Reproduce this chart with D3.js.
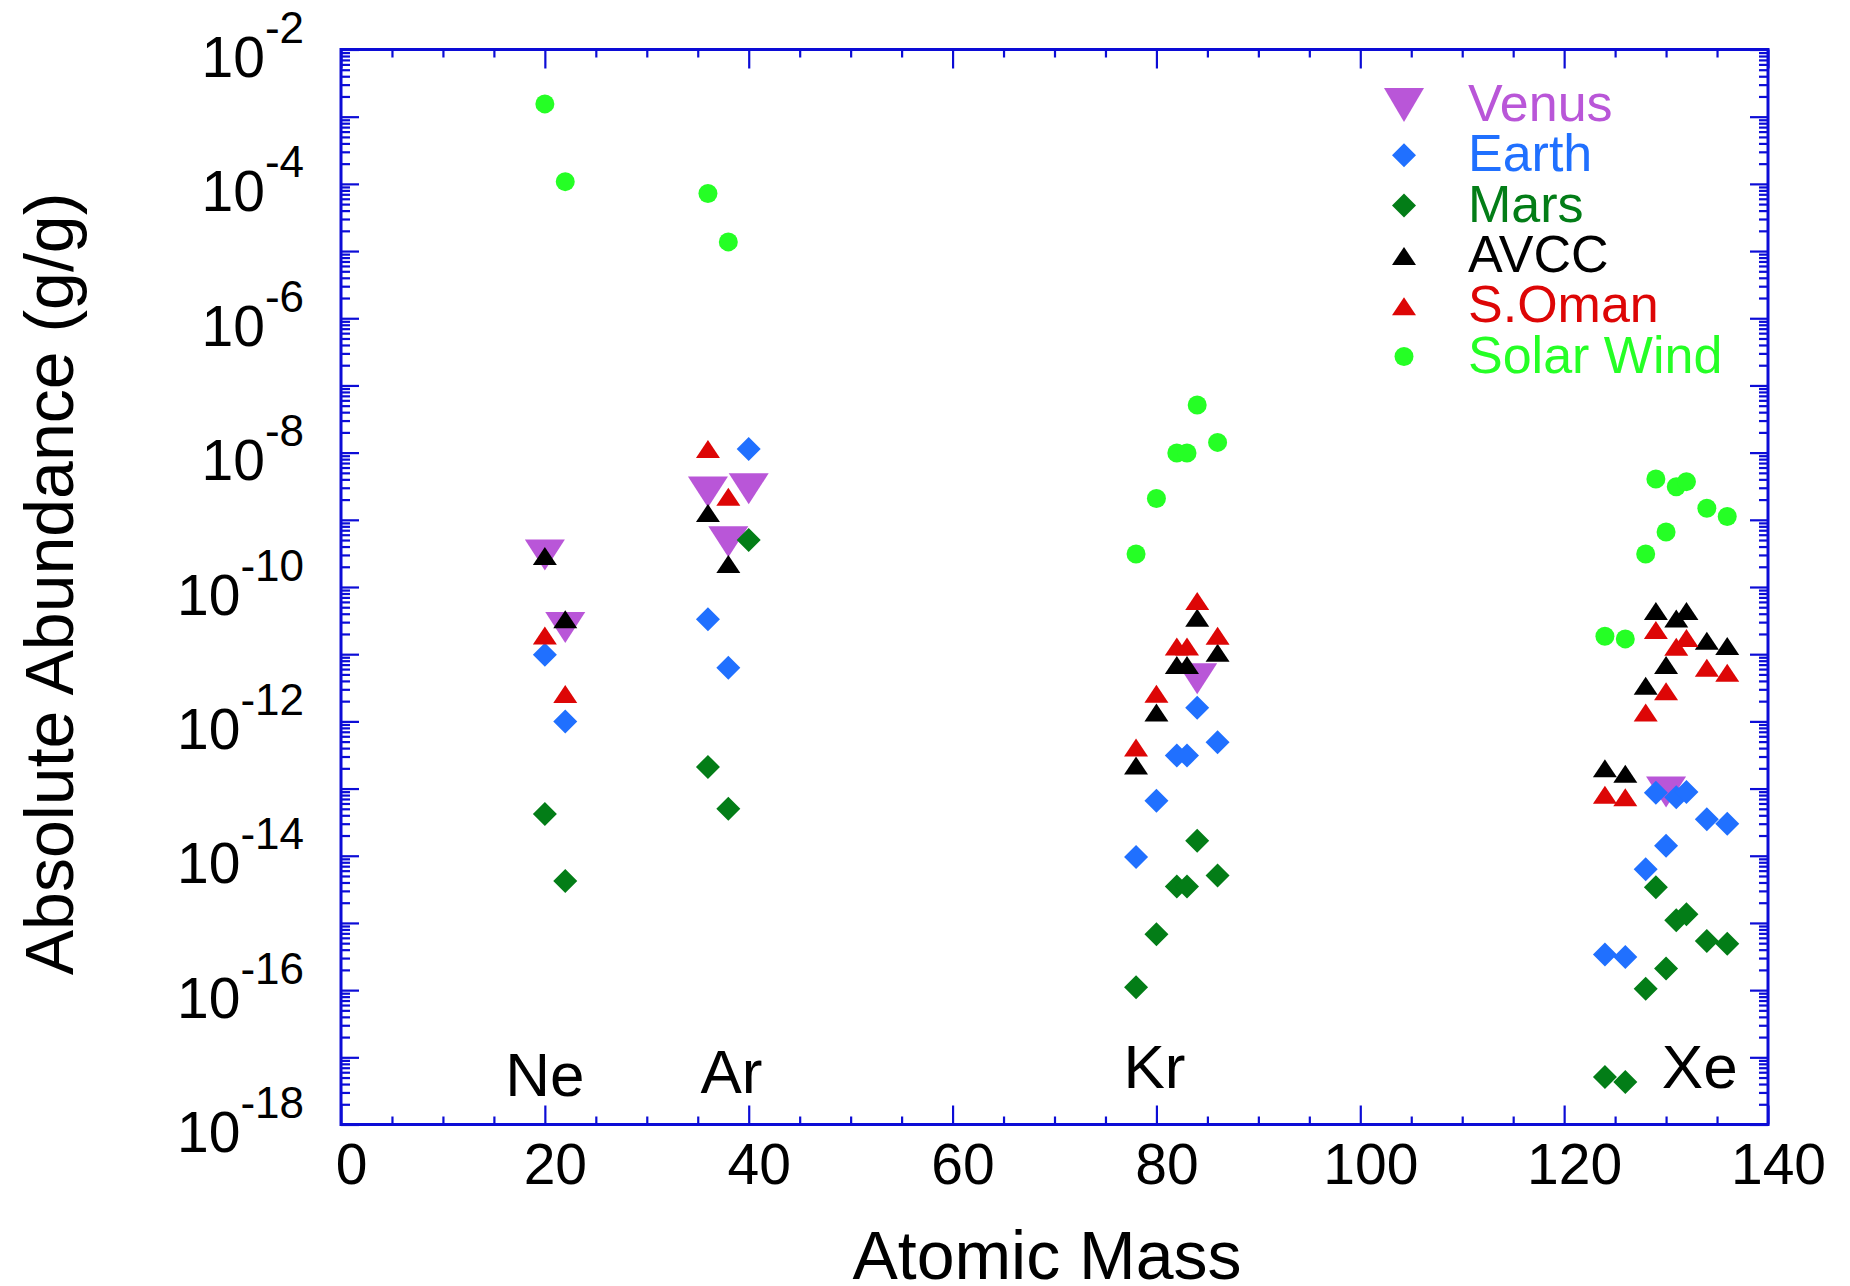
<!DOCTYPE html>
<html>
<head>
<meta charset="utf-8">
<script src="https://cdn.jsdelivr.net/npm/d3@7"></script>
<style>
  body { margin: 0; background: #fff; }
  text { font-family: "Liberation Sans", Arial, Helvetica, sans-serif; }
  .axis line { stroke: #0c0cd6; stroke-width: 2.2; }
  .axis path { display: none; }
</style>
</head>
<body>
<script>
// isotope masses and absolute abundances (g/g) for each reservoir
const venusMass  = [20, 22, 36, 38, 40, 84, 130];
const venusAbund = [3.0e-10, 2.5e-11, 2.6e-9, 4.7e-10, 2.9e-9, 4.3e-12, 8.9e-14];

const earthMass  = [20, 22, 36, 38, 40, 78, 80, 82, 83, 84, 86, 124, 126, 128, 129, 130, 131, 132, 134, 136];
const earthAbund = [9.8e-12, 1.0e-12, 3.3e-11, 6.3e-12, 1.13e-8,
                    9.6e-15, 6.6e-14, 3.1e-13, 3.1e-13, 1.6e-12, 4.9e-13,
                    3.4e-16, 3.1e-16, 6.3e-15, 8.7e-14, 1.41e-14, 7.4e-14, 8.9e-14, 3.5e-14, 3.0e-14];

const marsMass  = [20, 22, 36, 38, 40, 78, 80, 82, 83, 84, 86, 124, 126, 128, 129, 130, 131, 132, 134, 136];
const marsAbund = [4.2e-14, 4.2e-15, 2.1e-13, 5.0e-14, 5.0e-10,
                   1.1e-16, 6.8e-16, 3.5e-15, 3.5e-15, 1.67e-14, 5.1e-15,
                   5.1e-18, 4.3e-18, 1.05e-16, 3.4e-15, 2.1e-16, 1.1e-15, 1.35e-15, 5.4e-16, 4.9e-16];

const avccMass  = [20, 22, 36, 38, 78, 80, 82, 83, 84, 86, 124, 126, 128, 129, 130, 131, 132, 134, 136];
const avccAbund = [2.9e-10, 3.3e-11, 1.26e-9, 2.2e-10,
                   2.2e-13, 1.35e-12, 6.9e-12, 6.9e-12, 3.5e-11, 1.05e-11,
                   2.0e-13, 1.66e-13, 3.4e-12, 4.4e-11, 6.9e-12, 3.4e-11, 4.4e-11, 1.58e-11, 1.32e-11];

const omanMass  = [20, 22, 36, 38, 78, 80, 82, 83, 84, 86, 124, 126, 128, 129, 130, 131, 132, 134, 136];
const omanAbund = [1.9e-11, 2.55e-12, 1.13e-8, 2.2e-9,
                   4.1e-13, 2.57e-12, 1.3e-11, 1.3e-11, 6.2e-11, 1.88e-11,
                   8.1e-14, 7.4e-14, 1.35e-12, 2.3e-11, 2.8e-12, 1.29e-11, 1.74e-11, 6.3e-12, 5.3e-12];

const solarMass  = [20, 22, 36, 38, 78, 80, 82, 83, 84, 86, 124, 126, 128, 129, 130, 131, 132, 134, 136];
const solarAbund = [1.55e-3, 1.08e-4, 7.2e-5, 1.37e-5,
                    3.1e-10, 2.07e-9, 9.9e-9, 9.9e-9, 5.1e-8, 1.42e-8,
                    1.85e-11, 1.69e-11, 3.1e-10, 4.05e-9, 6.6e-10, 3.1e-9, 3.7e-9, 1.49e-9, 1.12e-9];

const seriesNames = ["Venus", "Earth", "Mars", "AVCC", "S.Oman", "Solar Wind"];

// element annotations near the bottom
const elementNames = ["Ne", "Ar", "Kr", "Xe"];
const elementX     = [20, 38.3, 79.8, 133.3];
const elementY     = [10 ** -17.57, 10 ** -17.53, 10 ** -17.45, 10 ** -17.45];

const xTicks = [0, 20, 40, 60, 80, 100, 120, 140];

// ---------------------------//
//       LAYOUT / SCALES      //
// ---------------------------//
const W = 1850, H = 1286;
const plotLeft = 341, plotRight = 1768, plotTop = 49.5, plotBottom = 1124.5;
const axisBlue = "#0c0cd6";

const svg = d3.select("body").append("svg")
    .attr("width", W)
    .attr("height", H);

svg.append("rect").attr("width", W).attr("height", H).attr("fill", "#fff");

const x = d3.scaleLinear().domain([0, 140]).range([plotLeft, plotRight]);
const y = d3.scaleLog().domain([1e-18, 1e-2]).range([plotBottom, plotTop]);

// tick values for the log axis
const majorY = d3.range(-18, -1).map(e => 10 ** e);
const minorY = [];
for (let e = -18; e <= -3; e++) {
    for (let k = 2; k <= 9; k++) minorY.push(k * 10 ** e);
}
const minorX = d3.range(0, 141, 5).filter(v => v % 20 !== 0);

// ---------------------------//
//            AXES            //
// ---------------------------//
// bottom
svg.append("g").attr("class", "axis")
    .attr("transform", "translate(0," + plotBottom + ")")
    .call(d3.axisBottom(x).tickValues(minorX).tickSize(-8).tickFormat(""));
const xAxis = svg.append("g").attr("class", "axis")
    .attr("transform", "translate(0," + plotBottom + ")")
    .call(d3.axisBottom(x).tickValues(xTicks).tickSizeInner(-19).tickSizeOuter(0).tickPadding(19));
xAxis.selectAll("text")
    .attr("font-size", 57)
    .attr("fill", "#000")
    .attr("dx", 10);
xAxis.attr("font-family", null);

// top
svg.append("g").attr("class", "axis")
    .attr("transform", "translate(0," + plotTop + ")")
    .call(d3.axisTop(x).tickValues(minorX).tickSize(-8).tickFormat(""));
svg.append("g").attr("class", "axis")
    .attr("transform", "translate(0," + plotTop + ")")
    .call(d3.axisTop(x).tickValues(xTicks).tickSize(-19).tickFormat(""));

// left
svg.append("g").attr("class", "axis")
    .attr("transform", "translate(" + plotLeft + ",0)")
    .call(d3.axisLeft(y).tickValues(minorY).tickSize(-9).tickFormat(""));
const yAxis = svg.append("g").attr("class", "axis")
    .attr("transform", "translate(" + plotLeft + ",0)")
    .call(d3.axisLeft(y).tickValues(majorY).tickSizeInner(-18).tickSizeOuter(0).tickPadding(37)
        .tickFormat(""));
yAxis.attr("font-family", null);

yAxis.selectAll(".tick text")
    .attr("dy", 27)
    .attr("fill", "#000")
    .each(function(d) {
        const e = Math.round(Math.log10(d));
        if (e % 2 !== 0) return;
        const t = d3.select(this);
        t.append("tspan").attr("font-size", 57).text("10");
        t.append("tspan").attr("font-size", 44).attr("dy", -34).text("-" + Math.abs(e));
    });

// right
svg.append("g").attr("class", "axis")
    .attr("transform", "translate(" + plotRight + ",0)")
    .call(d3.axisRight(y).tickValues(minorY).tickSize(-9).tickFormat(""));
svg.append("g").attr("class", "axis")
    .attr("transform", "translate(" + plotRight + ",0)")
    .call(d3.axisRight(y).tickValues(majorY).tickSize(-18).tickFormat(""));

// frame
svg.append("rect")
    .attr("x", plotLeft).attr("y", plotTop)
    .attr("width", plotRight - plotLeft).attr("height", plotBottom - plotTop)
    .attr("fill", "none")
    .attr("stroke", axisBlue)
    .attr("stroke-width", 3);

// axis titles
svg.append("text")
    .attr("transform", "translate(73," + 584 + ") rotate(-90)")
    .attr("text-anchor", "middle")
    .attr("font-size", 68)
    .text("Absolute Abundance (g/g)");

svg.append("text")
    .attr("x", 1047).attr("y", 1279)
    .attr("text-anchor", "middle")
    .attr("font-size", 68)
    .text("Atomic Mass");

// element labels
svg.selectAll(".elem")
    .data(elementNames)
    .enter()
    .append("text")
    .attr("class", "elem")
    .attr("x", (d, i) => x(elementX[i]))
    .attr("y", (d, i) => y(elementY[i]))
    .attr("text-anchor", "middle")
    .attr("font-size", 62)
    .text(d => d);

// ------------------//
//      MARKERS      //
// ------------------//
const shapes = {
    down:    (w, h) => `M${-w},${-h}L${w},${-h}L0,${h}Z`,
    up:      (w, h) => `M0,${-h}L${w},${h}L${-w},${h}Z`,
    diamond: (w, h) => `M0,${-h}L${w},0L0,${h}L${-w},0Z`,
    circle:  (w, h) => `M${-w},0A${w},${h} 0 1,0 ${w},0A${w},${h} 0 1,0 ${-w},0Z`
};

const series = [
    {name: seriesNames[0], color: "#b956d8", shape: "down",    w: 20,  h: 15.5, mass: venusMass, abund: venusAbund},
    {name: seriesNames[1], color: "#2070ff", shape: "diamond", w: 12,  h: 12,   mass: earthMass, abund: earthAbund},
    {name: seriesNames[2], color: "#037d17", shape: "diamond", w: 12,  h: 12,   mass: marsMass,  abund: marsAbund},
    {name: seriesNames[3], color: "#000000", shape: "up",      w: 12,  h: 9,    mass: avccMass,  abund: avccAbund},
    {name: seriesNames[4], color: "#dd0606", shape: "up",      w: 12,  h: 9,    mass: omanMass,  abund: omanAbund},
    {name: seriesNames[5], color: "#25ff25", shape: "circle",  w: 9.5, h: 9.5,  mass: solarMass, abund: solarAbund}
];

series.forEach(s => {
    svg.append("g")
        .selectAll("path")
        .data(s.mass.map((m, i) => ({m: m, v: s.abund[i]})))
        .enter()
        .append("path")
        .attr("transform", d => "translate(" + x(d.m) + "," + y(d.v) + ")")
        .attr("d", shapes[s.shape](s.w, s.h))
        .attr("fill", s.color);
});

// ------------------//
//       LEGEND      //
// ------------------//
const legend = svg.append("g").attr("transform", "translate(1404,105)");
const rows = legend.selectAll("g")
    .data(series)
    .enter()
    .append("g")
    .attr("transform", (d, i) => "translate(0," + (i * 50.3) + ")");

rows.append("path")
    .attr("d", d => d.shape === "down" ? shapes.down(20, 17) : shapes[d.shape](d.w, d.h))
    .attr("fill", d => d.color);

rows.append("text")
    .attr("x", 64)
    .attr("y", 16)
    .attr("font-size", 52)
    .attr("fill", d => d.color)
    .text(d => d.name);
</script>
</body>
</html>
